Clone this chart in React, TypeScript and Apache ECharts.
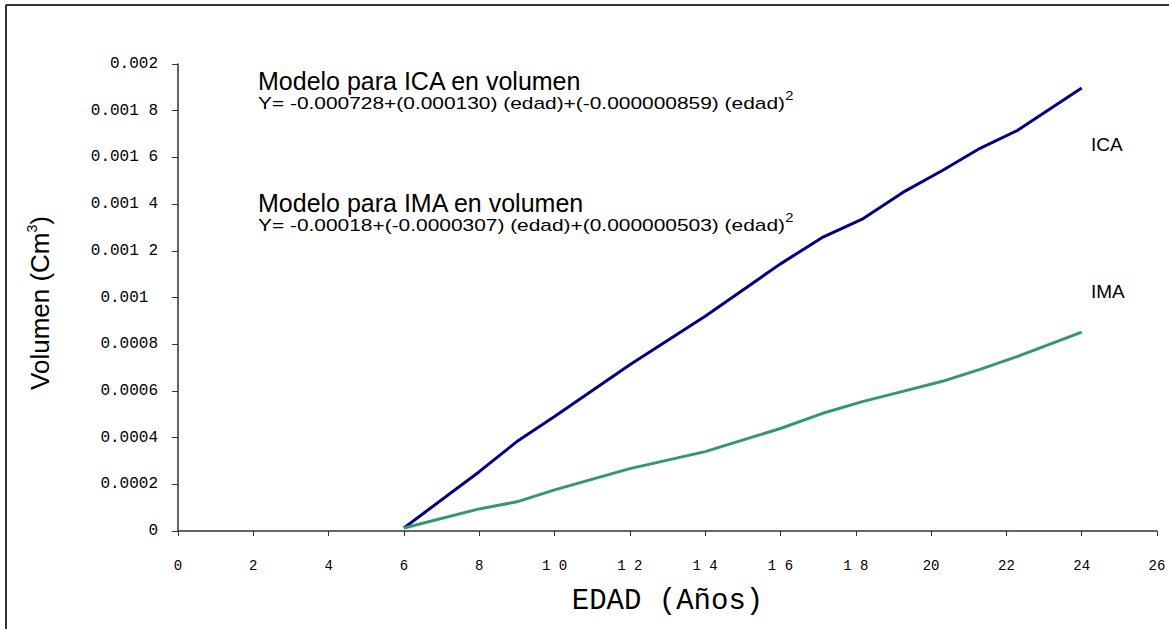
import React, { useEffect, useRef } from "react";
import * as echarts from "echarts";

// Age (years) at which each point was measured
const ages = [6, 8, 9, 10, 12, 14, 16, 17.1, 18.2, 19.25, 20.3, 21.3, 22.3, 24];

// Current annual increment (ICA) in volume
const icaValues = [
  0.000013, 0.000254, 0.000383, 0.00049, 0.000712, 0.00092, 0.001144,
  0.001256, 0.001338, 0.00145, 0.001544, 0.001639, 0.001716, 0.001897,
];

// Mean annual increment (IMA) in volume
const imaValues = [
  0.000013, 0.0000946, 0.000125, 0.000176, 0.000267, 0.00034, 0.000439,
  0.000503, 0.000555, 0.000598, 0.000641, 0.000692, 0.000748, 0.000852,
];

const xTickLabels = ["0", "2", "4", "6", "8", "1 0", "1 2", "1 4", "1 6", "1 8", "20", "22", "24", "26"];
const yTickLabels = [
  "0", "0.0002", "0.0004", "0.0006", "0.0008", "0.001 ", "0.001 2", "0.001 4", "0.001 6", "0.001 8", "0.002",
];

const MONO = "'Liberation Mono', 'DejaVu Sans Mono', monospace";
const SANS = "'Liberation Sans', Arial, sans-serif";

const supStyle = { fontFamily: SANS, fontSize: 12, fill: "#000", padding: [0, 0, 14, 0] };

export default function App() {
  const ref = useRef<HTMLDivElement>(null);

  useEffect(() => {
    document.body.style.margin = "0";
    const chart = echarts.init(ref.current!, undefined, { renderer: "svg" });

    const frame = { stroke: "#333", lineWidth: 2 };

    chart.setOption({
      animation: false,
      backgroundColor: "#ffffff",
      grid: { left: 178, right: 12, top: 64, bottom: 98, containLabel: false },
      xAxis: {
        type: "value",
        min: 0,
        max: 26,
        interval: 2,
        name: "EDAD (Años)",
        nameLocation: "middle",
        nameGap: 56,
        nameTextStyle: { fontFamily: MONO, fontSize: 29, color: "#000" },
        axisLine: { onZero: false, lineStyle: { color: "#333", width: 1.5 } },
        axisTick: { show: true, length: 5, lineStyle: { color: "#333" } },
        axisLabel: {
          margin: 28,
          fontFamily: MONO,
          fontSize: 14,
          color: "#000",
          formatter: (v: number) => xTickLabels[Math.round(v / 2)] ?? "",
        },
        splitLine: { show: false },
      },
      yAxis: {
        type: "value",
        min: 0,
        max: 0.002,
        interval: 0.0002,
        axisLine: { show: true, lineStyle: { color: "#333", width: 1.5 } },
        axisTick: { show: true, length: 6, lineStyle: { color: "#333" } },
        axisLabel: {
          margin: 20,
          fontFamily: MONO,
          fontSize: 16,
          color: "#000",
          formatter: (v: number) => yTickLabels[Math.round(v / 0.0002)] ?? "",
        },
        splitLine: { show: false },
      },
      series: [
        {
          name: "ICA",
          type: "line",
          data: ages.map((a, i) => [a, icaValues[i]]),
          showSymbol: false,
          lineStyle: { color: "#000080", width: 3 },
          itemStyle: { color: "#000080" },
        },
        {
          name: "IMA",
          type: "line",
          data: ages.map((a, i) => [a, imaValues[i]]),
          showSymbol: false,
          lineStyle: { color: "#339966", width: 3 },
          itemStyle: { color: "#339966" },
        },
      ],
      graphic: [
        // outer frame (top and left edges)
        { type: "line", shape: { x1: 6, y1: 5, x2: 1169, y2: 5 }, style: frame, silent: true },
        { type: "line", shape: { x1: 6, y1: 5, x2: 6, y2: 629 }, style: frame, silent: true },
        // vertical axis title
        {
          type: "text",
          x: 40,
          y: 303,
          rotation: Math.PI / 2,
          style: {
            text: "Volumen (Cm{sup|3})",
            fontFamily: SANS,
            fontSize: 26,
            fill: "#000",
            align: "center",
            verticalAlign: "middle",
            rich: { sup: { ...supStyle, fontSize: 14, padding: [0, 0, 16, 0] } },
          },
        },
        {
          type: "text",
          x: 258,
          y: 81,
          style: {
            text: "Modelo para ICA en volumen",
            fontFamily: SANS,
            fontSize: 25,
            fill: "#000",
            verticalAlign: "middle",
          },
        },
        {
          type: "text",
          x: 258,
          y: 103,
          scaleX: 1.23,
          style: {
            text: "Y= -0.000728+(0.000130) (edad)+(-0.000000859) (edad){sup|2}",
            fontFamily: SANS,
            fontSize: 17,
            fill: "#000",
            verticalAlign: "middle",
            rich: { sup: supStyle },
          },
        },
        {
          type: "text",
          x: 258,
          y: 203,
          style: {
            text: "Modelo para IMA en volumen",
            fontFamily: SANS,
            fontSize: 25,
            fill: "#000",
            verticalAlign: "middle",
          },
        },
        {
          type: "text",
          x: 258,
          y: 225,
          scaleX: 1.23,
          style: {
            text: "Y= -0.00018+(-0.0000307) (edad)+(0.000000503) (edad){sup|2}",
            fontFamily: SANS,
            fontSize: 17,
            fill: "#000",
            verticalAlign: "middle",
            rich: { sup: supStyle },
          },
        },
        {
          type: "text",
          x: 1091,
          y: 144,
          style: { text: "ICA", fontFamily: SANS, fontSize: 19, fill: "#000", verticalAlign: "middle" },
        },
        {
          type: "text",
          x: 1091,
          y: 291,
          style: { text: "IMA", fontFamily: SANS, fontSize: 19, fill: "#000", verticalAlign: "middle" },
        },
      ],
    });

    return () => chart.dispose();
  }, []);

  return (
    <div
      ref={ref}
      style={{ position: "absolute", left: 0, top: 0, width: 1169, height: 629 }}
    />
  );
}
